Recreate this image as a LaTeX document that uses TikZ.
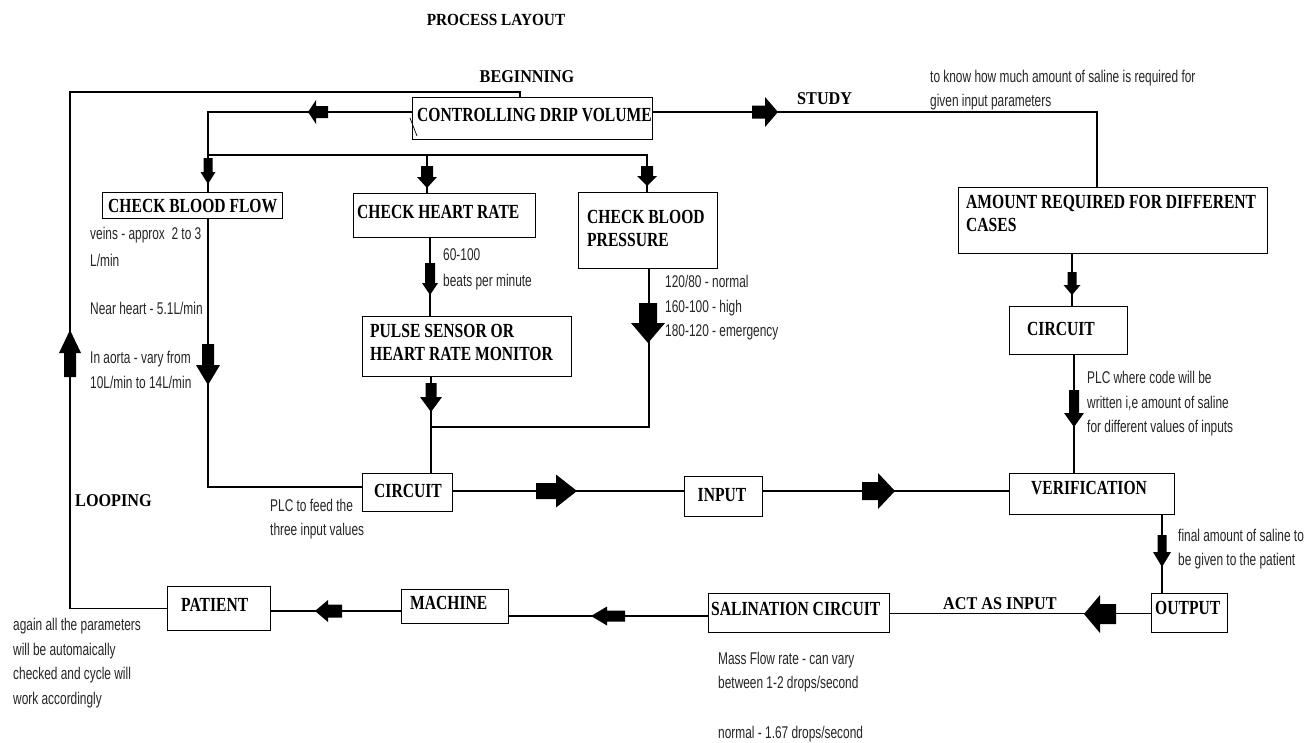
\documentclass[tikz,border=0pt]{standalone}
\usepackage{fontspec}
\newfontfamily\boxfont[FakeStretch=0.78]{Liberation Serif Bold}
\newfontfamily\lblfont[FakeStretch=0.9]{Liberation Serif Bold}
\newfontfamily\annfont[FakeStretch=0.7]{Liberation Sans}
% vertical block arrow: x, tail y, tip y, shaft half width, head half width, head base y
\newcommand\arrV[6]{\fill ({#1-#4},#2) -- ({#1+#4},#2) -- ({#1+#4},#6) -- ({#1+#5},#6) -- (#1,#3) -- ({#1-#5},#6) -- ({#1-#4},#6) -- cycle;}
% horizontal block arrow: y, tail x, tip x, shaft half width, head half width, head base x
\newcommand\arrH[6]{\fill (#2,{#1-#4}) -- (#2,{#1+#4}) -- (#6,{#1+#4}) -- (#6,{#1+#5}) -- (#3,#1) -- (#6,{#1-#5}) -- (#6,{#1-#4}) -- cycle;}
\begin{document}
\begin{tikzpicture}[x=1pt,y=-1pt,
  ln/.style={line width=1.3pt},
  bx/.style={draw, line width=1.3pt, rectangle, inner sep=0pt, anchor=north west},
  bt/.style={font=\boxfont\fontsize{20}{23}\selectfont, inner sep=0pt, align=left},
  lb/.style={font=\lblfont\fontsize{18}{22}\selectfont, inner sep=0pt},
  an/.style={font=\annfont\fontsize{17}{24.5}\selectfont, inner sep=0pt, anchor=west, align=left, text=black!85}]
\fill[white] (0,0) rectangle (1309,742);
\useasboundingbox (0,0) rectangle (1309,742);

% ---------- boxes ----------
\node[bx, minimum width=240pt, minimum height=42pt] (cdv) at (412,97) {};
\node[bx, minimum width=180pt, minimum height=26pt] (cbf) at (102,192) {};
\node[bx, minimum width=182pt, minimum height=44pt] (chr) at (353,193) {};
\node[bx, minimum width=139pt, minimum height=76pt] (cbp) at (578,192) {};
\node[bx, minimum width=209pt, minimum height=60pt] (pulse) at (362,316) {};
\node[bx, minimum width=90pt, minimum height=38pt] (circ1) at (362,473) {};
\node[bx, minimum width=78pt, minimum height=40pt] (input) at (684,476) {};
\node[bx, minimum width=165pt, minimum height=41pt] (verif) at (1009,473) {};
\node[bx, minimum width=309pt, minimum height=66pt] (amount) at (958,187) {};
\node[bx, minimum width=118pt, minimum height=48pt] (circ2) at (1009,306) {};
\node[bx, minimum width=76pt, minimum height=39pt] (output) at (1151,593) {};
\node[bx, minimum width=181pt, minimum height=39pt] (salin) at (708,593) {};
\node[bx, minimum width=107pt, minimum height=34pt] (machine) at (401,589) {};
\node[bx, minimum width=103pt, minimum height=44pt] (patient) at (167,586) {};

% ---------- box texts ----------
\node[bt, anchor=west] (tcdv) at (417,115) {CONTROLLING DRIP VOLUME};
\node[bt, anchor=west] (tcbf) at (108,206) {CHECK BLOOD FLOW};
\node[bt, anchor=west] (tchr) at (357,212) {CHECK HEART RATE};
\node[bt, anchor=west] (tcbp) at (587,228) {CHECK BLOOD\\PRESSURE};
\node[bt, anchor=west] (tpulse) at (370,342) {PULSE SENSOR OR\\HEART RATE MONITOR};
\node[bt] (tcirc1) at (408,491) {CIRCUIT};
\node[bt] (tinput) at (722,495) {INPUT};
\node[bt] (tverif) at (1089,488) {VERIFICATION};
\node[bt, anchor=west] (tamount) at (966,213) {AMOUNT REQUIRED FOR DIFFERENT\\CASES};
\node[bt] (tcirc2) at (1061,329) {CIRCUIT};
\node[bt, anchor=west] (toutput) at (1155,608) {OUTPUT};
\node[bt, anchor=west] (tsalin) at (711,609) {SALINATION CIRCUIT};
\node[bt, anchor=west] (tmachine) at (410,603) {MACHINE};
\node[bt, anchor=west] (tpatient) at (181,605) {PATIENT};

% ---------- free labels ----------
\node[lb, font=\lblfont\fontsize{17}{20}\selectfont] (title) at (496,20) {PROCESS LAYOUT};
\node[lb] (beg) at (527,77) {BEGINNING};
\node[lb, anchor=west] (study) at (797,99) {STUDY};
\node[lb, anchor=west] (loop) at (75,501) {LOOPING};
\node[lb, anchor=west] (act) at (943,604) {ACT AS INPUT};

% ---------- annotations ----------
\node[an] (n1) at (930,90) {to know how much amount of saline is required for\\given input parameters};
\node[an] (n2) at (90,235) {veins - approx\ \ 2 to 3};
\node[an] (n3) at (90,260) {L/min};
\node[an] (n4) at (90,308) {Near heart - 5.1L/min};
\node[an] (n5) at (90,370) {In aorta - vary from\\10L/min to 14L/min};
\node[an] (n6) at (443,255) {60-100};
\node[an] (n7) at (443,282) {beats per minute};
\node[an] (n8) at (665,308) {120/80 - normal\\160-100 - high\\180-120 - emergency};
\node[an] (n9) at (1087,404) {PLC where code will be\\written i,e amount of saline\\for different values of inputs};
\node[an] (n10) at (270,519) {PLC to feed the\\three input values};
\node[an] (n11) at (1178,549) {final amount of saline to\\be given to the patient};
\node[an] (n12) at (718,672) {Mass Flow rate - can vary\\between 1-2 drops/second};
\node[an] (n13) at (718,734) {normal - 1.67 drops/second};
\node[an] (n14) at (13,663) {again all the parameters\\will be automaically\\checked and cycle will\\work accordingly};

% ---------- coordinates ----------
\coordinate (lp) at (70,92);
\coordinate (cdvtop) at (520,97);
\coordinate (cdvw) at (412,112);
\coordinate (cdve) at (652,112);
\coordinate (j1) at (208,155);
\coordinate (j2) at (427,155);
\coordinate (j3) at (647,155);
\coordinate (chrt) at (427,193);
\coordinate (cbpt) at (647,192);
\coordinate (cbft) at (208,192);
\coordinate (cbfb) at (208,218);
\coordinate (c1w) at (362,487);
\coordinate (chrb) at (430,237);
\coordinate (pulset) at (430,316);
\coordinate (pulseb) at (431,376);
\coordinate (c1t) at (431,473);
\coordinate (j4) at (431,427);
\coordinate (cbpb) at (649,268);
\coordinate (amtt) at (1097,187);
\coordinate (amtb) at (1072,253);
\coordinate (c2t) at (1072,306);
\coordinate (c2b) at (1074,354);
\coordinate (vt) at (1074,473);
\coordinate (vb) at (1162,515);
\coordinate (ot) at (1162,593);
\coordinate (yci) at (0,491);
\coordinate (ysm) at (0,616);
\coordinate (ymp) at (0,611);

% ---------- connectors ----------
\draw[ln] (patient.west) -| (lp) -| (cdvtop);
\draw[ln] (cdvw) -| (cbft);
\draw[ln] (j1) -- (j3) -- (cbpt);
\draw[ln] (j2) -- (chrt);
\draw[ln] (cdve) -| (amtt);
\draw[ln] (chrb) -- (pulset);
\draw[ln] (pulseb) -- (c1t);
\draw[ln] (j4) -| (cbpb);
\draw[ln] (cbfb) |- (c1w);
\draw[ln] (circ1.east |- yci) -- (input.west |- yci);
\draw[ln] (input.east |- yci) -- (verif.west |- yci);
\draw[ln] (amtb) -- (c2t);
\draw[ln] (c2b) -- (vt);
\draw[ln] (vb) -- (ot);
\draw[ln] (output.west) -- (output.west -| salin.east);
\draw[ln] (salin.west |- ysm) -- (machine.east |- ysm);
\draw[ln] (machine.west |- ymp) -- (patient.east |- ymp);
\draw[line width=0.7pt] (410,118) -- (417,136);

% ---------- block arrows ----------
\arrV{70}{377}{330}{6}{11}{353}
\arrH{112}{328}{308}{6}{12}{316}
\arrH{112}{752}{778}{6.5}{15}{765}
\arrV{208}{158}{184}{4.5}{7.5}{172}
\arrV{427}{166}{188}{6}{10}{177}
\arrV{647}{166}{186}{6}{10}{176}
\arrV{430}{263}{295}{5}{8}{283}
\arrV{431}{383}{412}{5.5}{11}{397}
\arrV{648}{303}{343}{9}{17}{323}
\arrV{208}{344}{385}{6}{12}{365}
\arrH{491}{536}{577}{8}{16.5}{556}
\arrH{491}{862}{895}{9}{18}{878}
\arrV{1072}{272}{295}{4.5}{8.5}{285}
\arrV{1074}{390}{427}{5}{10}{413}
\arrV{1162}{535}{567}{4.5}{9}{552}
\arrH{614}{1116}{1084}{10}{19}{1100}
\arrH{616}{625}{591}{5.5}{9.5}{607}
\arrH{611}{342}{315}{6.5}{11}{328}
\end{tikzpicture}
\end{document}
